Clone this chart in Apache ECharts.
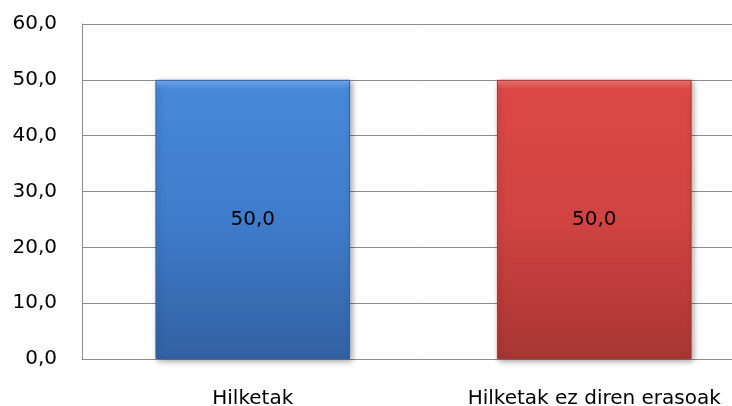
<!DOCTYPE html>
<html><head><meta charset="utf-8">
<script src="https://cdn.jsdelivr.net/npm/echarts@6/dist/echarts.min.js"></script>
<style>html,body{margin:0;padding:0;background:#fff;overflow:hidden;width:732px;height:406px}#c{width:780px;height:406px}</style>
</head><body><div id="c"></div>
<script>
const categories = ["Hilketak", "Hilketak ez diren erasoak"];
const values = [50.0, 50.0];
const yTicks = [0, 10, 20, 30, 40, 50, 60];
const edgeColors = ["#76b0f2", "#f07a76"];
const topColors = ["#4688d9", "#dd4845"];
const midColors = ["#3f7ccb", "#d14341"];
const bottomColors = ["#3361a3", "#a83633"];

const fmt = v => v.toFixed(1).replace('.', ',');
const chart = echarts.init(document.getElementById('c'), null, {renderer: 'canvas'});
chart.setOption({
  animation: false,
  grid: {left: 82, right: 15, top: 24, bottom: 47, containLabel: false, outerBoundsMode: 'none'},
  xAxis: {
    type: 'category', data: categories,
    axisLine: {lineStyle: {color: '#8c8c8c', width: 1}},
    axisTick: {show: false},
    axisLabel: {color: '#000', fontFamily: 'DejaVu Sans', fontSize: 20, margin: 30, interval: 0}
  },
  yAxis: {
    type: 'value', min: yTicks[0], max: yTicks[yTicks.length - 1], interval: 10,
    axisLine: {show: true, lineStyle: {color: '#8c8c8c', width: 1}},
    axisTick: {show: false},
    splitLine: {lineStyle: {color: '#8c8c8c', width: 1}},
    axisLabel: {color: '#000', fontFamily: 'DejaVu Sans', fontSize: 20, margin: 25, formatter: v => fmt(v)}
  },
  series: [{
    type: 'bar', barWidth: '57%',
    data: values.map((v, i) => ({
      value: v,
      itemStyle: {
        color: {type: 'linear', x: 0, y: 0, x2: 0, y2: 1, colorStops: [
          {offset: 0, color: edgeColors[i]},
          {offset: 0.035, color: topColors[i]},
          {offset: 0.5, color: midColors[i]},
          {offset: 1, color: bottomColors[i]}]},
        borderColor: bottomColors[i], borderWidth: 1,
        shadowColor: 'rgba(0,0,0,0.35)', shadowBlur: 6, shadowOffsetX: 2, shadowOffsetY: 2
      }
    })),
    label: {show: true, position: 'inside', color: '#000', fontFamily: 'DejaVu Sans', fontSize: 20, formatter: p => fmt(p.value)}
  }]
});
</script></body></html>
